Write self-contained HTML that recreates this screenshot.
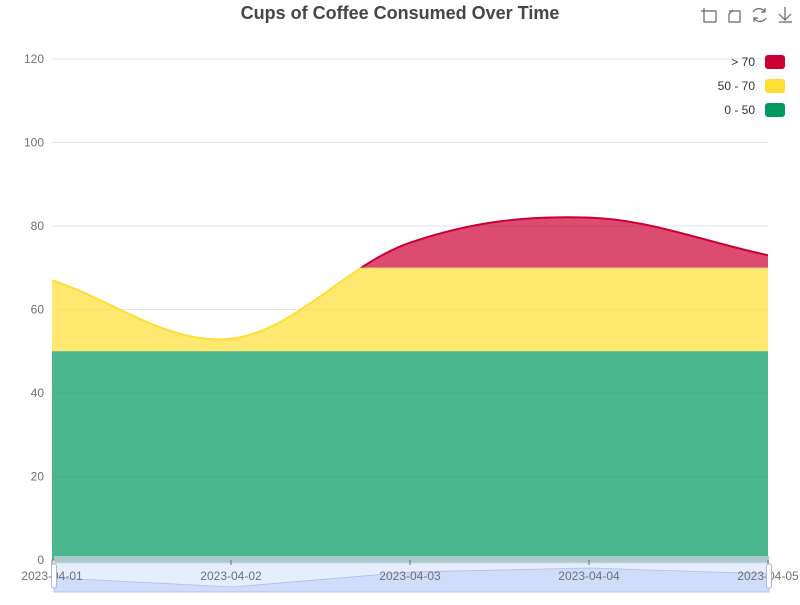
<!DOCTYPE html>
<html><head><meta charset="utf-8"><style>
body{margin:0;background:#fff;font-family:"Liberation Sans",sans-serif}
</style></head><body>
<svg id="c" width="800" height="600" xmlns="http://www.w3.org/2000/svg" font-family="Liberation Sans, sans-serif">
<text x="400" y="19" text-anchor="middle" font-size="18" font-weight="bold" fill="#464646">Cups of Coffee Consumed Over Time</text>
<g id="tools" stroke="#666" fill="none" stroke-width="1.2">
<g><path d="M704 8v14h12M701 11h15v11"/></g>
<g><path d="M729 11h11v11h-11v-8l4-4"/></g>
<g><path d="M753 12a7 7 0 0 1 12 0M766 18a7 7 0 0 1-12 0M765 8v4h-4M754 22v-4h4"/></g>
<g><path d="M785 7v13M779 14l6 6 6-6M779 22h13"/></g>
</g>
<g id="grid"></g>
<g id="series"></g>
<g id="legend"></g>
<g id="zoom"></g>
</svg>
<script>
const categories=["2023-04-01","2023-04-02","2023-04-03","2023-04-04","2023-04-05"];
const values=[67,53,76,82,73];
const yTicks=[0,20,40,60,80,100,120];
const pieces=[{min:70,label:"> 70",color:"#cc0033"},{min:50,max:70,label:"50 - 70",color:"#ffde33"},{min:0,max:50,label:"0 - 50",color:"#009960"}];
const NS="http://www.w3.org/2000/svg";
const X0=52,X1=768,Y0=560,Y1=59;
const xs=i=>X0+(X1-X0)*i/(categories.length-1);
const ys=v=>Y0-(Y0-Y1)*v/120;
function mk(t,a,p){const e=document.createElementNS(NS,t);for(const k in a)e.setAttribute(k,a[k]);p.appendChild(e);return e;}
const grid=document.getElementById('grid');
yTicks.forEach(t=>{
 const l=mk('line',{x1:X0,x2:X1,y1:ys(t),y2:ys(t),stroke:t===0?'#6e7079':'#e0e6f1'},grid);
 
 
 const tx=mk('text',{x:44,y:ys(t)+4,'text-anchor':'end','font-size':12,fill:'#6e7079'},grid);
 tx.textContent=t;
 
 
});
function smoothPath(px,py){
 let d=`M${px[0]},${py[0]}`;
 for(let i=0;i<px.length-1;i++){
  const p0=i>0?i-1:i,p3=i+2<px.length?i+2:i+1;
  const s=0.35;
  const c1x=px[i]+(px[i+1]-px[p0])*s/ (i>0?2:1)*1, c1y=py[i]+(py[i+1]-py[p0])*s/(i>0?2:1);
  const c2x=px[i+1]-(px[p3]-px[i])*s/(p3>i+1?2:1), c2y=py[i+1]-(py[p3]-py[i])*s/(p3>i+1?2:1);
  d+=` C${c1x},${c1y} ${c2x},${c2y} ${px[i+1]},${py[i+1]}`;
 }
 return d;
}
const px=values.map((v,i)=>xs(i)),py=values.map(v=>ys(v));
const line=smoothPath(px,py);
const ser=document.getElementById('series');
const defs=mk('defs',{},ser);
const cp=mk('clipPath',{id:'area'},defs);
mk('path',{d:line+` L${X1},${Y0} L${X0},${Y0} Z`},cp);
pieces.forEach((p,k)=>{
 const top=p.max===undefined?0:ys(p.max),bot=ys(p.min);
 const cl=mk('clipPath',{id:'band'+k},defs);
 mk('rect',{x:0,y:top,width:800,height:bot-top},cl);
 const r=mk('rect',{x:X0,y:top,width:X1-X0,height:bot-top,fill:p.color,'fill-opacity':0.7,'clip-path':'url(#area)'},ser);
 
 
 const g=mk('g',{'clip-path':`url(#band${k})`},ser);
 const l=mk('path',{d:line,fill:'none',stroke:p.color,'stroke-width':2},g);
 
 
});
const lg=document.getElementById('legend');
pieces.forEach((p,k)=>{
 const y=61+k*24;
 const r=mk('rect',{x:765,y:y-6,width:20,height:14,rx:3,fill:p.color},lg);
 
 
 const t=mk('text',{x:755,y:y+5,'text-anchor':'end','font-size':12,fill:'#333'},lg);
 t.textContent=p.label;
 
 
});
const z=document.getElementById('zoom');
const zb=mk('rect',{x:54,y:556,width:715,height:7,fill:'#abc9cb'},z);


const zs=mk('rect',{x:54,y:563,width:715,height:29,fill:'#e6edfc',stroke:'#d2dbee'},z);


const sy=v=>587-(v-53)*0.655;
const sp=values.map((v,i)=>`${54+715*i/(values.length-1)},${sy(v)}`).join(' L');
const sh=mk('path',{d:`M54,592 L${sp} L769,592 Z`,fill:'#c6d6f9','fill-opacity':0.7,stroke:'#a9c0f5','stroke-width':0.8},z);


categories.forEach((c,i)=>{
 const x=xs(i);
 mk('line',{x1:x,x2:x,y1:560,y2:565,stroke:'#6e7079'},z);
 const t=mk('text',{x:x,y:580,'text-anchor':'middle','font-size':12,fill:'#6e7079'},z);
 t.textContent=c;
 
 
});
[54,769].forEach(x=>{
 const h=mk('rect',{x:x-2.5,y:564,width:5,height:24,rx:2,fill:'#fff',stroke:'#acb8d1'},z);
 
 
});
</script>
</body></html>
